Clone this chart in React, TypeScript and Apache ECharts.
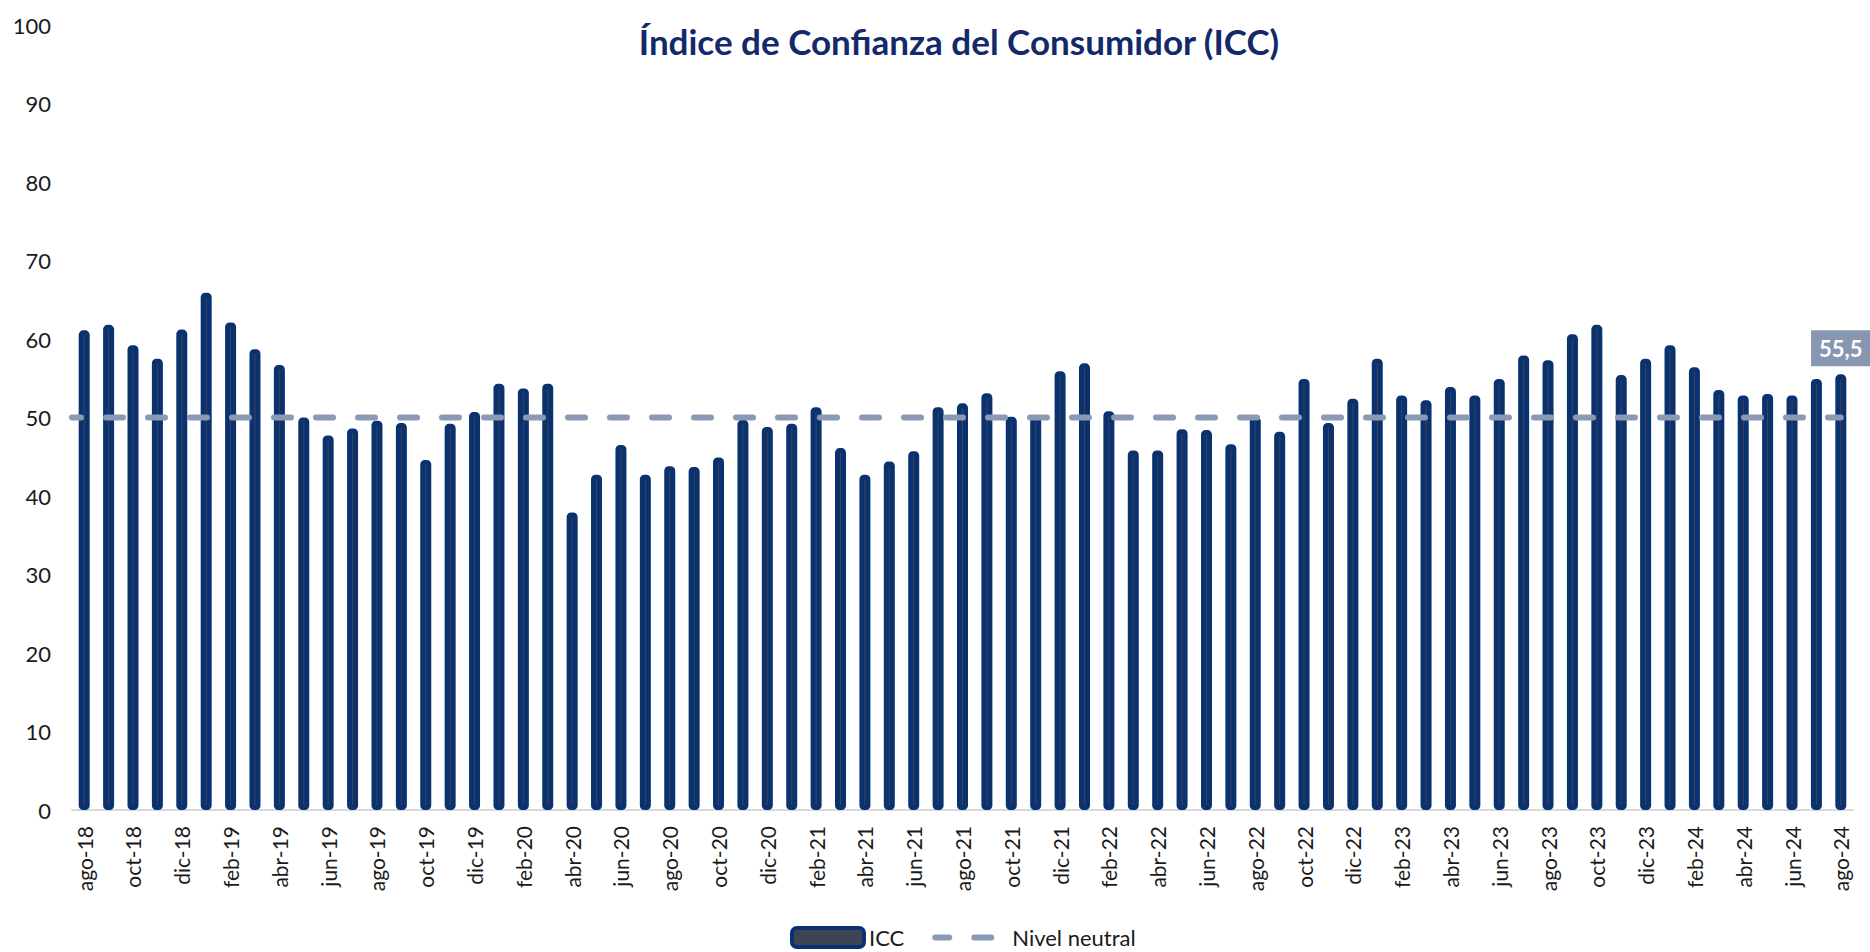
import React, { useEffect, useRef } from 'react';
import * as echarts from 'echarts';

const TITLE = 'Índice de Confianza del Consumidor (ICC)';

const CATEGORIES: string[] = [
  'ago-18', 'sep-18', 'oct-18', 'nov-18', 'dic-18',
  'ene-19', 'feb-19', 'mar-19', 'abr-19', 'may-19', 'jun-19', 'jul-19', 'ago-19', 'sep-19', 'oct-19', 'nov-19', 'dic-19',
  'ene-20', 'feb-20', 'mar-20', 'abr-20', 'may-20', 'jun-20', 'jul-20', 'ago-20', 'sep-20', 'oct-20', 'nov-20', 'dic-20',
  'ene-21', 'feb-21', 'mar-21', 'abr-21', 'may-21', 'jun-21', 'jul-21', 'ago-21', 'sep-21', 'oct-21', 'nov-21', 'dic-21',
  'ene-22', 'feb-22', 'mar-22', 'abr-22', 'may-22', 'jun-22', 'jul-22', 'ago-22', 'sep-22', 'oct-22', 'nov-22', 'dic-22',
  'ene-23', 'feb-23', 'mar-23', 'abr-23', 'may-23', 'jun-23', 'jul-23', 'ago-23', 'sep-23', 'oct-23', 'nov-23', 'dic-23',
  'ene-24', 'feb-24', 'mar-24', 'abr-24', 'may-24', 'jun-24', 'jul-24', 'ago-24',
];

const ICC: number[] = [
  61.1, 61.8, 59.2, 57.5, 61.2,
  65.9, 62.1, 58.7, 56.7, 50.0, 47.7, 48.6, 49.6, 49.3, 44.6, 49.2, 50.7,
  54.3, 53.7, 54.3, 37.9, 42.7, 46.5, 42.7, 43.8, 43.7, 44.9, 49.7, 48.8,
  49.2, 51.3, 46.1, 42.7, 44.4, 45.7, 51.3, 51.8, 53.1, 50.1, 50.3, 55.9,
  56.9, 50.8, 45.8, 45.8, 48.5, 48.4, 46.6, 50.1, 48.2, 54.9, 49.3, 52.4,
  57.5, 52.8, 52.2, 53.9, 52.8, 54.9, 57.9, 57.3, 60.6, 61.8, 55.4, 57.5,
  59.2, 56.4, 53.5, 52.8, 53.0, 52.8, 54.9, 55.5,
];

const NEUTRAL = 50;
const Y_TICKS = { min: 0, max: 100, interval: 10 };

const NAVY = '#0a3170';
const BAR_FILL = '#3e4453';
const NEUTRAL_COLOR = '#8a9ab4';
const FONT = 'Lato';

export default function App() {
  const ref = useRef<HTMLDivElement>(null);

  useEffect(() => {
    if (!ref.current) return;
    const chart = echarts.init(ref.current, undefined, { renderer: 'svg' });
    const last = ICC.length - 1;
    const barData = ICC.map((v, i) =>
      i === last
        ? {
            value: v,
            label: {
              show: true,
              position: 'top',
              distance: 8,
              formatter: (p: any) => Number(p.value).toFixed(1).replace('.', ','),
              backgroundColor: '#8797b1',
              color: '#ffffff',
              fontFamily: FONT,
              fontSize: 22,
              fontWeight: 'bold',
              lineHeight: 22,
              padding: [7, 8, 7, 8],
            },
          }
        : v
    );

    const option: any = {
      animation: false,
      backgroundColor: '#ffffff',
      title: {
        text: TITLE,
        left: 954,
        textAlign: 'center',
        top: 18,
        textStyle: { fontFamily: FONT, fontSize: 35, fontWeight: 'bold', color: '#13296a' },
      },
      grid: { left: 72, right: 17, top: 25, bottom: 142, containLabel: false },
      legend: {
        left: 785,
        top: 921,
        itemWidth: 72,
        itemHeight: 19,
        itemGap: 28,
        textStyle: { fontFamily: FONT, fontSize: 22, color: '#1a1a1a' },
        data: [
          {
            name: 'ICC',
            icon: 'roundRect',
            itemStyle: { color: BAR_FILL, borderColor: NAVY, borderWidth: 4 },
          },
          {
            name: 'Nivel neutral',
            itemStyle: { color: 'rgba(0,0,0,0)', borderColor: 'rgba(0,0,0,0)', borderWidth: 0, opacity: 0 },
            lineStyle: { color: NEUTRAL_COLOR, width: 6, type: [17, 25], cap: 'round', dashOffset: 3 },
          },
        ],
      },
      xAxis: [
        {
          type: 'category',
          data: CATEGORIES,
          axisTick: { show: false },
          axisLine: { lineStyle: { color: '#d9d9d9', width: 2 } },
          axisLabel: {
            rotate: 90,
            interval: 1,
            fontFamily: FONT,
            fontSize: 21,
            color: '#1a1a1a',
            margin: 16,
          },
        },
        { type: 'value', min: 0, max: CATEGORIES.length, show: false },
      ],
      yAxis: {
        type: 'value',
        min: Y_TICKS.min,
        max: Y_TICKS.max,
        interval: Y_TICKS.interval,
        splitLine: { show: false },
        axisLine: { show: false },
        axisTick: { show: false },
        axisLabel: { fontFamily: FONT, fontSize: 22, color: '#1a1a1a', margin: 21 },
      },
      series: [
        {
          name: 'ICC',
          type: 'bar',
          data: barData,
          barWidth: 11,
          itemStyle: { color: BAR_FILL, borderColor: NAVY, borderWidth: 5, borderRadius: 2 },
          z: 2,
        },
        {
          name: 'Nivel neutral',
          type: 'line',
          xAxisIndex: 1,
          data: [
            [0, NEUTRAL],
            [CATEGORIES.length - 0.5, NEUTRAL],
          ],
          symbol: 'none',
          itemStyle: { color: NEUTRAL_COLOR },
          lineStyle: { color: NEUTRAL_COLOR, width: 6, type: [17, 25], cap: 'round', dashOffset: 8 },
          z: 3,
        },
      ],
    };
    chart.setOption(option);
    return () => chart.dispose();
  }, []);

  return (
    <div
      ref={ref}
      style={{ position: 'fixed', left: 0, top: 0, width: 1870, height: 952, background: '#fff' }}
    />
  );
}
